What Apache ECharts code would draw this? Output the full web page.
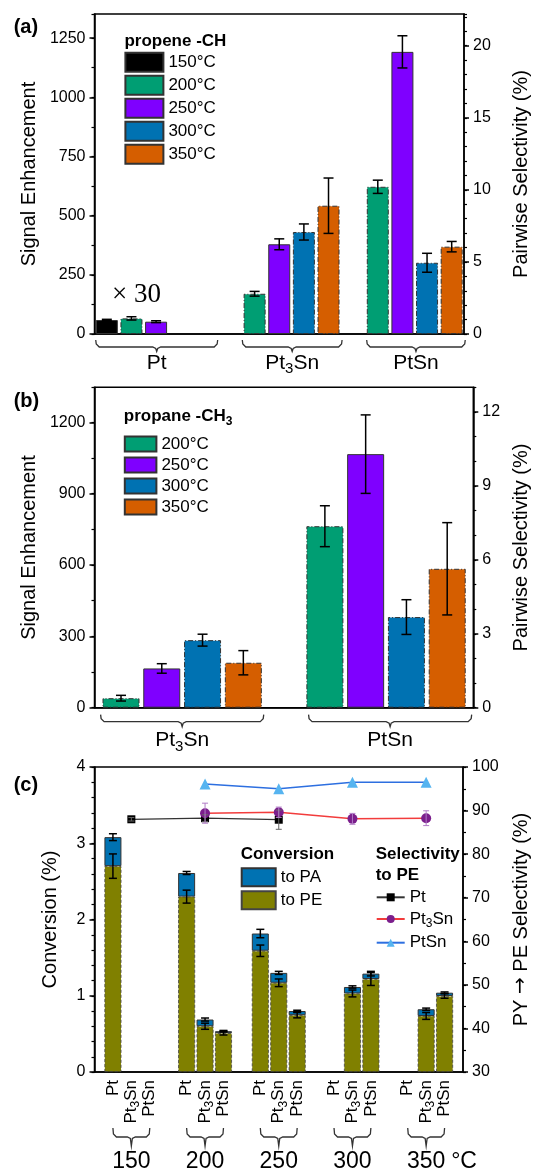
<!DOCTYPE html>
<html>
<head>
<meta charset="utf-8">
<script src="https://cdn.jsdelivr.net/npm/echarts@6/dist/echarts.min.js"></script>
<style>
  html, body { margin: 0; padding: 0; background: #fff; }
  #wrap { position: relative; width: 539px; height: 1173px; }
  .panel { position: absolute; left: 0; width: 539px; }
</style>
</head>
<body>
<div id="wrap">
  <div id="chartA" class="panel" style="top:0;height:378px"></div>
  <div id="chartB" class="panel" style="top:378px;height:377px"></div>
  <div id="chartC" class="panel" style="top:755px;height:418px"></div>
</div>
<script>
// ---- panel (a): propene -CH, signal enhancement (Pt drawn x30) ----
const aTemps = ['150°C', '200°C', '250°C', '300°C', '350°C'];
const aGroups = ['Pt', 'Pt3Sn', 'PtSn'];
const aPt = [59, 66, 52, null, null];
const aPt3Sn = [null, 170, 379, 431, 542];
const aPtSn = [null, 622, 1192, 301, 369];
const aPtErr = [3, 7, 4, null, null];
const aPt3SnErr = [null, 10, 23, 34, 117];
const aPtSnErr = [null, 28, 68, 40, 22];
const aGroupStart = [0, 6, 11];
const aBraceFrom = [-0.45, 5.5, 10.55];
const aBraceTo = [4.5, 9.55, 14.55];

// ---- panel (b): propane -CH3 ----
const bTemps = ['200°C', '250°C', '300°C', '350°C'];
const bGroups = ['Pt3Sn', 'PtSn'];
const bPt3Sn = [40, 165, 284, 189];
const bPtSn = [763, 1066, 381, 584];
const bPt3SnErr = [12, 20, 25, 51];
const bPtSnErr = [86, 165, 73, 194];
const bGroupStart = [0, 5];
const bBraceFrom = [-0.5, 4.6];
const bBraceTo = [3.5, 8.6];

// ---- panel (c): conversion + selectivity, order = temp x catalyst ----
const cTemps = ['150', '200', '250', '300', '350'];
const cCats = ['Pt', 'Pt3Sn', 'PtSn'];
const cToPE = [2.70, null, null, 2.30, 0.60, 0.51, 1.59, 1.17, 0.745, null, 1.03, 1.22, null, 0.735, 0.997];
const cToPA = [0.38, null, null, 0.31, 0.088, 0.025, 0.226, 0.13, 0.055, null, 0.085, 0.07, null, 0.088, 0.043];
const cErrPE = [0.16, null, null, 0.085, 0.04, 0.025, 0.075, 0.05, 0.035, null, 0.045, 0.085, null, 0.045, 0.03];
const cErrTotal = [0.045, null, null, 0.02, 0.02, 0.01, 0.055, 0.02, 0.01, null, 0.015, 0.03, null, 0.015, 0.01];
const cSelPt = [88.0, 88.25, 87.9, null, null];
const cSelPt3Sn = [null, 89.4, 89.6, 88.1, 88.25];
const cSelPtSn = [null, 96.1, 95.0, 96.5, 96.5];
const cSelPtErr = [0.4, 0.8, 2.2, null, null];
const cSelPt3SnErr = [null, 2.3, 1.2, 1.25, 1.7];

const FONT = '"Liberation Sans", Arial, Helvetica, sans-serif';
const tempColor = { '150°C': '#000000', '200°C': '#009E73', '250°C': '#7F00FF', '300°C': '#0072B2', '350°C': '#D55E00' };
const tempDashed = { '150°C': false, '200°C': true, '250°C': false, '300°C': true, '350°C': true };

function subText(s) { return s.replace('3', '{s|3}'); }
function subRich(fs, bold) {
  return { s: { fontSize: Math.round(fs * 0.7), lineHeight: 4, verticalAlign: 'top',
    padding: [Math.round(fs * 0.42), 0, 0, 0], fontFamily: FONT, color: '#000', fontWeight: bold ? 'bold' : 'normal' } };
}

function majorY(pos, min, max, interval, name, nameGap, hideMax) {
  return {
    type: 'value', position: pos, min: min, max: max, interval: interval,
    name: name, nameLocation: 'middle', nameGap: nameGap,
    nameTextStyle: { fontSize: 20, color: '#000', fontFamily: FONT,
      rich: { ar: { fontSize: 20, fontFamily: '"DejaVu Sans", sans-serif', color: '#000' } } },
    axisLine: { show: true, onZero: false, lineStyle: { color: '#000', width: 1.5 } },
    axisTick: { show: true, length: 5, lineStyle: { color: '#000', width: 1.5 } },
    axisLabel: { fontSize: 16, color: '#000', margin: 9, fontFamily: FONT, showMaxLabel: !hideMax,
      formatter: v => String(v) },
    splitLine: { show: false }
  };
}
function minorY(pos, min, max, interval) {
  return {
    type: 'value', position: pos, min: min, max: max, interval: interval,
    axisLine: { show: false, onZero: false }, axisLabel: { show: false }, splitLine: { show: false },
    axisTick: { show: true, length: 3, lineStyle: { color: '#000', width: 1.2 } }
  };
}
function plainX(min, max) {
  return {
    type: 'value', min: min, max: max,
    axisLine: { show: true, onZero: false, lineStyle: { color: '#000', width: 1.5 } },
    axisTick: { show: false }, axisLabel: { show: false }, splitLine: { show: false }
  };
}
function barSeries(name, data, width, color, dashed, extra) {
  return Object.assign({
    name: name, type: 'bar', data: data, barWidth: width, barGap: '-100%',
    itemStyle: { color: color, borderColor: '#333', borderWidth: 1, borderType: dashed ? [5, 2, 1, 2] : 'solid' }
  }, extra || {});
}
function errSeries(data, color, cap, width, yIdx) {
  return {
    type: 'custom', data: data, yAxisIndex: yIdx || 0, z: 10, silent: true,
    encode: { x: 0, y: [1, 2] },
    renderItem: function (params, api) {
      const x = api.value(0);
      const lo = api.coord([x, api.value(1)]);
      const hi = api.coord([x, api.value(2)]);
      const h = cap / 2;
      const st = { stroke: color, lineWidth: width };
      return { type: 'group', children: [
        { type: 'line', shape: { x1: lo[0], y1: lo[1], x2: hi[0], y2: hi[1] }, style: st },
        { type: 'line', shape: { x1: lo[0] - h, y1: lo[1], x2: lo[0] + h, y2: lo[1] }, style: st },
        { type: 'line', shape: { x1: hi[0] - h, y1: hi[1], x2: hi[0] + h, y2: hi[1] }, style: st }
      ] };
    }
  };
}
// brace under a group with its label; item = [center, halfSpan(in x units), labelIndex, 0]
// dy = [ends, line, tip, label] in px below the axis
function braceSeries(data, labels, dy, fs, useSub, extraText) {
  return {
    type: 'custom', data: data, silent: true, z: 3, encode: { x: 0, y: 3 },
    renderItem: function (params, api) {
      const c = api.coord([api.value(0), 0]);
      const half = api.size([api.value(1), 0])[0];
      const xc = c[0], xl = xc - half, xr = xc + half, y = c[1];
      const y0 = y + dy[0], y1 = y + dy[1], y2 = y + dy[2];
      const pts = [[xl, y0], [xl + 0.5, y1 - 3], [xl + 3.5, y1], [xc - 4, y1], [xc - 1, y1 + 1.5], [xc, y2],
        [xc + 1, y1 + 1.5], [xc + 4, y1], [xr - 3.5, y1], [xr - 0.5, y1 - 3], [xr, y0]];
      const idx = api.value(2);
      const kids = [
        { type: 'polyline', shape: { points: pts }, style: { stroke: '#333', lineWidth: 1.3, fill: null } },
        { type: 'text', x: xc, y: y + dy[3], style: { text: useSub ? subText(labels[idx]) : labels[idx], fontSize: fs,
          fontFamily: FONT, fill: '#000', align: 'center', verticalAlign: 'middle', rich: subRich(fs) } }
      ];
      if (extraText && idx === labels.length - 1) {
        kids.push({ type: 'text', x: xc + 25, y: y + dy[3], style: { text: extraText, fontSize: fs, fontFamily: FONT,
          fill: '#000', align: 'left', verticalAlign: 'middle' } });
      }
      return { type: 'group', children: kids };
    }
  };
}
function slotsOf(vals, start) { let k = 0; return vals.map(v => v == null ? null : start + k++); }
function txt(x, y, text, fs, bold, rich, family) {
  return { type: 'text', x: x, y: y, style: { text: text, fontSize: fs, fontWeight: bold ? 'bold' : 'normal',
    fontFamily: family || FONT, fill: '#000', verticalAlign: 'middle', rich: rich } };
}

// ================= panel (a) =================
const aVals = [aPt, aPt3Sn, aPtSn];
const aErrs = [aPtErr, aPt3SnErr, aPtSnErr];
const aSlots = aVals.map((v, g) => slotsOf(v, aGroupStart[g]));
const aSeries = aTemps.map((t, ti) => {
  const pts = [];
  aVals.forEach((v, g) => { if (v[ti] != null) pts.push([aSlots[g][ti], v[ti]]); });
  return barSeries(t, pts, 22, tempColor[t], tempDashed[t]);
});
const aErrData = [];
aVals.forEach((v, g) => v.forEach((y, ti) => {
  if (y != null) aErrData.push([aSlots[g][ti], y - aErrs[g][ti], y + aErrs[g][ti]]);
}));
aSeries.push(errSeries(aErrData, '#000', 10, 1.5));
aSeries.push(braceSeries(aGroups.map((g, i) => [(aBraceFrom[i] + aBraceTo[i]) / 2, (aBraceTo[i] - aBraceFrom[i]) / 2, i, 0]),
  aGroups, [6, 13, 17.5, 29], 21, true));

const chartA = echarts.init(document.getElementById('chartA'));
chartA.setOption({
  animation: false,
  grid: { left: 94.5, top: 14, width: 380, height: 320, show: true, borderColor: '#000', borderWidth: 1.5 },
  xAxis: plainX(-0.5, 14.5),
  yAxis: [
    majorY('left', 0, 1352, 250, 'Signal Enhancement', 49, true),
    majorY('right', 0, 22.2, 5, 'Pairwise Selectivity (%)', 47, true),
    minorY('left', 0, 1352, 125),
    minorY('right', 0, 22.2, 1)
  ],
  legend: { data: aTemps, orient: 'vertical', left: 124.4, top: 51.7, padding: 0, itemWidth: 38, itemHeight: 19,
    itemGap: 2, icon: 'rect', selectedMode: false, textStyle: { fontSize: 17, color: '#000', fontFamily: FONT } },
  graphic: [
    txt(13.7, 27, '(a)', 20, true),
    txt(124.4, 41, 'propene -CH', 17, true),
    txt(112, 295, '× 30', 27, false, null, '"Liberation Serif", "Times New Roman", serif')
  ],
  series: aSeries
});

// ================= panel (b) =================
const bVals = [bPt3Sn, bPtSn];
const bErrs = [bPt3SnErr, bPtSnErr];
const bSeries = bTemps.map((t, ti) => barSeries(t, bVals.map((v, g) => [bGroupStart[g] + ti, v[ti]]), 37,
  tempColor[t], tempDashed[t]));
const bErrData = [];
bVals.forEach((v, g) => v.forEach((y, ti) => bErrData.push([bGroupStart[g] + ti, y - bErrs[g][ti], y + bErrs[g][ti]])));
bSeries.push(errSeries(bErrData, '#000', 10, 1.5));
bSeries.push(braceSeries(bGroups.map((g, i) => [(bBraceFrom[i] + bBraceTo[i]) / 2, (bBraceTo[i] - bBraceFrom[i]) / 2, i, 0]),
  bGroups, [7, 14, 19, 33], 21, true));

const chartB = echarts.init(document.getElementById('chartB'));
chartB.setOption({
  animation: false,
  grid: { left: 94.5, top: 9.3, width: 380, height: 320.4, show: true, borderColor: '#000', borderWidth: 1.5 },
  xAxis: plainX(-0.65, 8.64),
  yAxis: [
    majorY('left', 0, 1347, 300, 'Signal Enhancement', 49, true),
    majorY('right', 0, 13, 3, 'Pairwise Selectivity (%)', 36, true),
    minorY('left', 0, 1347, 150),
    minorY('right', 0, 13, 1)
  ],
  legend: { data: bTemps, orient: 'vertical', left: 123.8, top: 57.5, padding: 0, itemWidth: 31.6, itemHeight: 15,
    itemGap: 4, icon: 'rect', selectedMode: false, textStyle: { fontSize: 17, color: '#000', fontFamily: FONT } },
  graphic: [
    txt(13.7, 23.7, '(b)', 20, true),
    txt(123.8, 38.7, subText('propane -CH3'), 17, true, subRich(17, true))
  ],
  series: bSeries
});

// ================= panel (c) =================
// category slots: 4 per temperature (blank, Pt, Pt3Sn, PtSn) plus a closing blank
const cSlotCount = 4 * cTemps.length + 1;
const cSlotNames = [];
for (let i = 0; i < cSlotCount; i++) {
  const p = i % 4;
  cSlotNames.push((p === 0 ? '' : cCats[p - 1]) + '@' + i);
}
const cSlot = (ti, ci) => 4 * ti + 1 + ci;
const cPE = new Array(cSlotCount).fill('-');
const cPA = new Array(cSlotCount).fill('-');
const cErrData = [];
cToPE.forEach((v, i) => {
  if (v == null) return;
  const x = cSlot(Math.floor(i / 3), i % 3);
  cPE[x] = v;
  cPA[x] = cToPA[i];
  const tot = v + cToPA[i];
  cErrData.push([x, v - cErrPE[i], v + cErrPE[i]]);
  cErrData.push([x, tot - cErrTotal[i], tot + cErrTotal[i]]);
});
function selData(vals) {
  const out = new Array(cSlotCount).fill('-');
  vals.forEach((v, ti) => { if (v != null) out[4 * ti + 2] = v; });
  return out;
}
function selErr(vals, errs) {
  const out = [];
  vals.forEach((v, ti) => { if (v != null && errs[ti] != null) out.push([4 * ti + 2, v - errs[ti], v + errs[ti]]); });
  return out;
}
const cSeries = [
  barSeries('to PE', cPE, 17, '#808000', true, { stack: 'conv',
    itemStyle: { color: '#808000', borderColor: '#444', borderWidth: 0.8, borderType: [3, 2] } }),
  barSeries('to PA', cPA, 17, '#0072B2', false, { stack: 'conv',
    itemStyle: { color: '#0072B2', borderColor: '#333', borderWidth: 1 } }),
  errSeries(cErrData, '#000', 8, 1.5),
  errSeries(selErr(cSelPt, cSelPtErr), '#666', 6, 1, 1),
  errSeries(selErr(cSelPt3Sn, cSelPt3SnErr), '#b07cc6', 6, 1, 1),
  { name: 'Pt', type: 'line', yAxisIndex: 1, data: selData(cSelPt), connectNulls: true, symbol: 'rect', symbolSize: 8, z: 6,
    itemStyle: { color: '#000' }, lineStyle: { color: '#333', width: 1.2 } },
  { name: 'Pt3Sn', type: 'line', yAxisIndex: 1, data: selData(cSelPt3Sn), connectNulls: true, symbol: 'circle', symbolSize: 10, z: 6,
    itemStyle: { color: '#7b1e8c' }, lineStyle: { color: '#f23c3c', width: 1.5 } },
  { name: 'PtSn', type: 'line', yAxisIndex: 1, data: selData(cSelPtSn), connectNulls: true, symbol: 'triangle', symbolSize: 11, z: 6,
    itemStyle: { color: '#56b4f0' }, lineStyle: { color: '#2d6fe0', width: 1.5 } },
  braceSeries(cTemps.map((t, ti) => [4 * ti + 2, 1.25, ti, 0]), cTemps, [56, 65, 74, 90], 23, false, '°C')
];

const chartC = echarts.init(document.getElementById('chartC'));
chartC.setOption({
  animation: false,
  grid: { left: 94.5, top: 12, width: 380, height: 305, show: true, borderColor: '#000', borderWidth: 1.5 },
  xAxis: {
    type: 'category', data: cSlotNames, boundaryGap: false,
    axisLine: { show: true, onZero: false, lineStyle: { color: '#000', width: 1.5 } },
    axisTick: { show: false }, splitLine: { show: false },
    axisLabel: {
      interval: 0, rotate: 90, margin: 8, fontSize: 17, color: '#000', fontFamily: FONT, rich: subRich(17),
      formatter: function (v) { const n = v.split('@')[0]; return n ? subText(n) : ''; }
    }
  },
  yAxis: [
    majorY('left', 0, 4, 1, 'Conversion (%)', 34, false),
    majorY('right', 30, 100, 10, 'PY {ar|→} PE Selectivity (%)', 48, false),
    minorY('left', 0, 4, 0.2),
    minorY('right', 30, 100, 5)
  ],
  legend: [
    { data: ['to PA', 'to PE'], orient: 'vertical', left: 240.7, top: 112.3, padding: 0, itemWidth: 34, itemHeight: 18,
      itemGap: 3, icon: 'rect', selectedMode: false, textStyle: { fontSize: 17, color: '#000', fontFamily: FONT } },
    { data: ['Pt', 'Pt3Sn', 'PtSn'], orient: 'vertical', left: 375.7, top: 133.8, padding: 0, itemWidth: 28,
      itemHeight: 10, itemGap: 4.7, selectedMode: false, formatter: subText,
      textStyle: { fontSize: 17, color: '#000', fontFamily: FONT, rich: subRich(17) } }
  ],
  graphic: [
    txt(13.7, 30, '(c)', 20, true),
    txt(240.7, 99, 'Conversion', 17, true),
    txt(375.7, 99, 'Selectivity', 17, true),
    txt(375.7, 120.7, 'to PE', 17, true)
  ],
  series: cSeries
});
</script>
</body>
</html>
